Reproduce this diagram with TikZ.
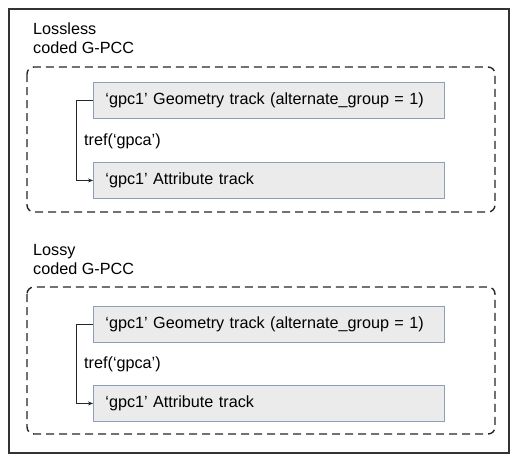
\documentclass[tikz,border=0pt]{standalone}
\usepackage{fontspec}
\setmainfont{Liberation Sans}
\usetikzlibrary{arrows.meta}
\definecolor{trackfill}{HTML}{EBEBEB}
\definecolor{trackline}{HTML}{8E9DB8}
\definecolor{frameline}{HTML}{333333}
\tikzset{
  track/.style={draw=trackline,fill=trackfill,line width=.9pt,anchor=north west,
    minimum width=351pt,minimum height=36pt,inner xsep=12pt,text width=327pt,
    align=left,font=\fontsize{16.2}{18}\selectfont},
  groupbox/.style={draw=black!85,line width=1.4pt,dash pattern=on 8pt off 5pt,rounded corners=7pt},
  caption/.style={anchor=north west,align=left,inner sep=0pt,font=\fontsize{16.2}{19}\selectfont},
  tref/.style={-{Stealth[length=5pt,width=4pt]},line width=.9pt,black!85}
}
\begin{document}
\begin{tikzpicture}[x=1pt,y=-1pt]
\useasboundingbox (0,0) rectangle (519,463);
% Marco exterior
\draw[frameline,line width=1.5pt] (9,9) rectangle (509,453);
% Grupo sin perdidas
\node[caption] (lossless) at (33,23) {Lossless\\coded G-PCC};
\draw[groupbox] (27,67) rectangle (495,212);
\node[track] (geo1) at (93,82) {‘gpc1’ Geometry track (alternate\_group = 1)};
\node[track] (att1) at (93,162) {‘gpc1’ Attribute track};
\node[anchor=west,inner sep=0pt,font=\fontsize{16.2}{18}\selectfont] (ref1) at (84,141) {tref(‘gpca’)};
\draw[tref] (geo1.west) -- ([xshift=-17pt]geo1.west) |- (att1.west);
% Grupo con perdidas
\node[caption] (lossy) at (33,244) {Lossy\\coded G-PCC};
\draw[groupbox] (27,287) rectangle (495,434);
\node[track] (geo2) at (93,306) {‘gpc1’ Geometry track (alternate\_group = 1)};
\node[track] (att2) at (93,385) {‘gpc1’ Attribute track};
\node[anchor=west,inner sep=0pt,font=\fontsize{16.2}{18}\selectfont] (ref2) at (84,364) {tref(‘gpca’)};
\draw[tref] (geo2.west) -- ([xshift=-17pt]geo2.west) |- (att2.west);
\end{tikzpicture}
\end{document}
